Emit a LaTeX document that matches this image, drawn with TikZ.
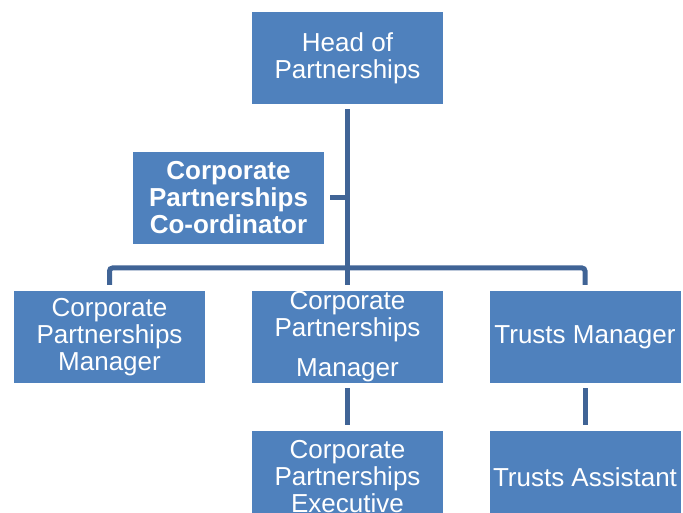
\documentclass[tikz,border=0pt]{standalone}
\usepackage{fontspec}
\setmainfont{Liberation Sans}
\definecolor{boxblue}{RGB}{79,129,189}
\definecolor{lineblue}{RGB}{64,100,150}
\tikzset{
  post/.style={fill=boxblue, text=white, minimum width=191pt, minimum height=92pt,
    inner sep=0pt, align=center, font=\fontsize{26}{27}\selectfont},
  link/.style={draw=lineblue, line width=5pt, shorten <=5pt, shorten >=6pt}
}
\begin{document}
\begin{tikzpicture}[x=1pt,y=-1pt]
      \useasboundingbox (0,0) rectangle (683,513);
      \clip (0,0) rectangle (683,513);
      \draw
        (347.5,58) node[post] (head){Head of\\Partnerships}
        (228.5,198) node[post, font=\fontsize{26}{27}\selectfont\bfseries] (coord){Corporate\\Partnerships\\Co-ordinator}
        (109.5,337) node[post] (cpm1){Corporate\\Partnerships\\Manager}
        (347.5,337) node[post] (cpm2){Corporate\\Partnerships\\[13pt]Manager}
        (585,337) node[post] (trm){Trusts Manager}
        (347.5,477) node[post] (cpe){Corporate\\Partnerships\\Executive}
        (585,477) node[post] (tra){Trusts Assistant};
      \coordinate (bus) at (347.5,268);
      \begin{scope}[-]
        \draw[link] (head.south) -- (cpm2.north);
        \draw[link, rounded corners=3pt, shorten <=6pt] (cpm1.north) |- (bus) -| (trm.north);
        \draw[link, shorten >=0pt, shorten <=6pt] (coord.east) -- (coord.east -| head.south);
        \draw[link] (cpm2.south) -- (cpe.north);
        \draw[link] (trm.south) -- (tra.north);
      \end{scope}
    \end{tikzpicture}
\end{document}
